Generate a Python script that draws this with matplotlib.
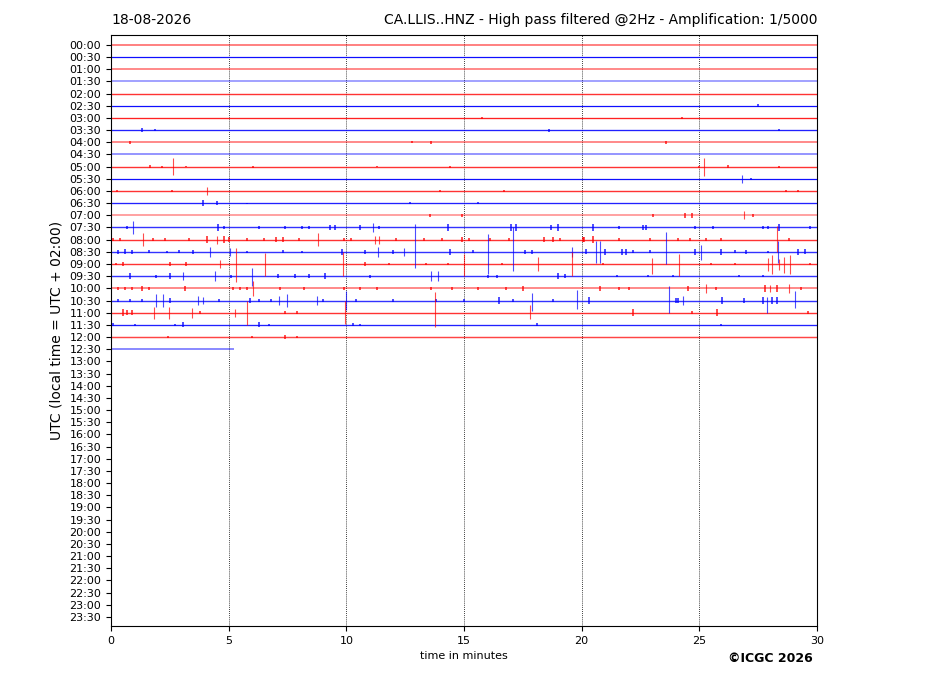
import matplotlib
matplotlib.use("Agg")
import matplotlib.pyplot as plt
import numpy as np

# ---------------- data ----------------
date_label = "18-08-2026"
title_right = "CA.LLIS..HNZ - High pass filtered @2Hz - Amplification: 1/5000"
row_labels = ["%02d:%02d" % (h, m) for h in range(24) for m in (0, 30)]
x_ticks = [0, 5, 10, 15, 20, 25, 30]

# background (high-frequency) noise level per recorded row (row units)
noise = [0.08, 0.03, 0.09, 0.11, 0.05, 0.03, 0.04, 0.04, 0.09, 0.10,
         0.05, 0.03, 0.05, 0.04, 0.11, 0.05, 0.05, 0.05, 0.05, 0.05,
         0.09, 0.05, 0.05, 0.04, 0.06, 0.09]
# minutes of data present in each recorded row
row_length = [30] * 25 + [5.24]

# events per row: (minute, extent above trace, extent below trace) in row units
events = {
    5: [(27.5, .12, .12)],
    6: [(15.75, .12, .12), (24.25, .1, .1)],
    7: [(1.3, .15, .15), (1.87, .08, .08), (18.6, .13, .13), (28.4, .1, .1)],
    8: [(0.8, .1, .1), (12.8, .08, .08), (13.6, .1, .1), (23.6, .1, .1)],
    10: [(1.66, .1, .1), (2.15, .08, .08), (2.62, .7, .7), (3.2, .06, .06), (6.05, .08, .08),
         (11.3, .06, .06), (14.4, .08, .08), (25.0, .08, .08), (25.2, .75, .75), (26.2, .1, .1),
         (28.4, .08, .08)],
    11: [(26.8, .35, .35), (27.2, .1, .1)],
    12: [(0.24, .08, .08), (2.6, .1, .1), (4.1, .35, .35), (13.98, .1, .1), (16.7, .08, .08),
         (28.7, .1, .1), (29.2, .1, .1)],
    13: [(3.92, .27, .27), (4.49, .15, .15), (5.8, .05, .05), (12.7, .08, .08), (15.6, .1, .1)],
    14: [(13.55, .1, .1), (14.9, .1, .1), (23.05, .12, .12), (24.4, .2, .2), (24.7, .2, .2),
         (26.9, .33, .33), (27.3, .1, .1)],
    15: [(0.7, .15, .15), (0.95, .55, .55), (4.56, .27, .27), (4.8, .12, .12), (6.3, .1, .1),
         (7.4, .1, .1), (8.1, .12, .12), (8.4, .12, .12), (9.3, .18, .18), (9.5, .18, .18),
         (10.6, .22, .22), (11.15, .33, .33), (11.4, .12, .12), (14.3, .27, .27), (17.0, .25, .25),
         (17.2, .27, .27), (18.7, .22, .22), (19.0, .25, .25), (20.5, .27, .27), (21.6, .1, .1),
         (22.6, .22, .22), (22.75, .2, .2), (24.8, .1, .1), (25.6, .15, .15), (27.7, .15, .15),
         (27.9, .15, .15), (28.4, .27, .27), (29.7, .1, .1)],
    16: [(0.1, .12, .12), (0.4, .12, .12), (1.35, .55, .55), (1.8, .15, .15), (2.3, .1, .1),
         (3.3, .1, .1), (4.07, .27, .27), (4.5, .33, .33), (4.8, .27, .27), (5.0, .2, .2),
         (5.8, .15, .15), (6.5, .12, .12), (7.0, .22, .22), (7.3, .2, .2), (8.0, .1, .1),
         (8.81, .55, .55), (9.9, .12, .12), (10.2, .12, .12), (11.2, .33, .33), (11.4, .33, .33),
         (12.1, .12, .12), (13.3, .12, .12), (14.05, .15, .15), (14.9, .22, .22), (15.2, .12, .12),
         (16.1, .12, .12), (16.9, .12, .12), (18.4, .2, .2), (18.8, .22, .22), (19.1, .15, .15),
         (20.06, .22, .22), (20.1, .2, .2), (20.5, .27, .27), (21.6, .15, .15), (22.9, .12, .12),
         (24.1, .15, .15), (24.6, .12, .12), (25.3, .12, .12), (25.9, .12, .12), (28.3, 1.15, 1.05),
         (28.8, .12, .12)],
    17: [(0.3, .15, .15), (0.6, .2, .2), (0.9, .15, .15), (1.6, .12, .12), (2.4, .1, .1),
         (2.9, .12, .12), (3.5, .15, .15), (4.21, .41, .41), (5.06, .33, .33), (5.8, .1, .1),
         (7.3, .12, .12), (8.1, .1, .1), (9.8, .27, .27), (10.8, .15, .15), (11.36, .41, .41),
         (12.0, .15, .15), (12.46, .33, .33), (12.9, 2.3, 1.3), (14.4, .22, .22), (15.4, .12, .12),
         (16.0, 1.45, 1.8), (17.1, 2.0, 1.55), (17.6, .15, .15), (17.9, .15, .15), (19.57, .41, .41),
         (20.2, .2, .2), (20.6, .9, .9), (20.8, .9, .9), (21.0, .27, .27), (21.7, .22, .22),
         (21.9, .22, .22), (22.2, .12, .12), (22.9, .12, .12), (23.58, 1.6, 1.0), (24.8, .22, .22),
         (25.05, .6, .7), (25.9, .22, .22), (26.5, .12, .12), (27.0, .15, .15), (27.9, .1, .1),
         (28.35, .9, .9), (29.2, .22, .22), (29.5, .2, .2)],
    18: [(0.2, .12, .12), (0.5, .15, .15), (2.5, .15, .15), (3.2, .15, .15), (4.63, .35, .35),
         (5.33, 1.3, 1.5), (6.54, .9, 1.0), (9.87, 1.0, 1.0), (10.8, .15, .15), (11.8, .12, .12),
         (13.4, .1, .1), (14.3, .1, .1), (15.0, .8, 1.0), (16.6, .1, .1), (18.15, .6, .6),
         (19.57, 1.0, 1.0), (20.9, .1, .1), (22.97, .5, .8), (24.15, .8, 1.0), (25.5, .1, .1),
         (26.5, .1, .1), (27.9, .5, .6), (28.1, .7, .8), (28.4, .4, .5), (28.6, .6, .7),
         (28.85, .7, .8), (29.7, .12, .12)],
    19: [(0.81, .22, .22), (1.9, .12, .12), (2.51, .22, .22), (3.08, .33, .33), (4.42, .41, .41),
         (5.1, .12, .12), (5.98, .7, .8), (7.1, .15, .15), (7.8, .15, .15), (8.4, .15, .15),
         (9.1, .27, .27), (11.0, .12, .12), (13.6, .41, .41), (13.9, .41, .41), (16.0, .12, .12),
         (16.4, .12, .12), (19.0, .22, .22), (19.3, .15, .15), (21.5, .08, .08), (22.8, .08, .08),
         (23.9, .08, .08), (26.7, .08, .08), (27.7, .08, .08)],
    20: [(0.3, .15, .15), (0.6, .15, .15), (0.9, .12, .12), (1.3, .2, .2), (1.6, .1, .1),
         (3.14, .22, .22), (5.2, .12, .12), (5.5, .15, .15), (5.8, .12, .12), (6.05, .6, .6),
         (7.2, .12, .12), (8.2, .12, .12), (9.9, .15, .15), (10.6, .12, .12), (11.3, .12, .12),
         (13.6, .12, .12), (14.5, .15, .15), (15.6, .12, .12), (16.8, .12, .12), (17.5, .22, .22),
         (20.8, .22, .22), (21.6, .12, .12), (22.0, .12, .12), (24.5, .22, .22), (25.28, .35, .35),
         (25.7, .12, .12), (27.8, .27, .27), (28.0, .3, .3), (28.3, .27, .27), (28.8, .35, .35),
         (29.3, .12, .12)],
    21: [(0.3, .12, .12), (0.8, .12, .12), (1.3, .12, .12), (1.9, .55, .55), (2.2, .5, .5),
         (2.5, .22, .22), (3.7, .33, .33), (3.9, .3, .3), (4.6, .15, .15), (5.9, .2, .2),
         (6.3, .15, .15), (6.8, .12, .12), (7.14, .41, .41), (7.47, .5, .5), (8.74, .33, .33),
         (9.0, .15, .15), (10.0, .8, .8), (10.4, .12, .12), (12.0, .12, .12), (13.8, .15, .15),
         (15.0, .12, .12), (16.5, .27, .27), (17.1, .15, .15), (17.9, .65, .85), (18.8, .15, .15),
         (19.8, .9, .7), (20.3, .27, .27), (23.72, 1.2, 1.0), (24.0, .22, .22), (24.1, .2, .2),
         (24.3, .33, .33), (25.95, .27, .27), (26.9, .22, .22), (27.7, .27, .27), (27.86, .3, 1.0),
         (28.1, .27, .27), (28.3, .27, .27), (29.06, .8, .6)],
    22: [(0.5, .27, .27), (0.7, .22, .22), (0.9, .2, .2), (1.84, .5, .5), (2.47, .5, .5),
         (3.46, .41, .41), (3.8, .12, .12), (5.27, .33, .33), (5.76, 1.0, 1.0), (7.4, .15, .15),
         (7.9, .12, .12), (9.95, 1.0, .9), (13.76, 1.7, 1.2), (17.8, .6, .5), (22.2, .27, .27),
         (24.7, .15, .15), (25.76, .27, .27), (29.6, .1, .1)],
    23: [(0.1, .12, .12), (1.0, .1, .1), (2.7, .1, .1), (3.08, .2, .2), (6.3, .2, .2),
         (6.7, .1, .1), (10.3, .12, .12), (10.6, .1, .1), (18.1, .12, .12), (25.9, .1, .1)],
    24: [(2.44, .1, .1), (6.0, .08, .08), (7.4, .2, .2), (7.9, .08, .08)],
}

# ---------------- plot ----------------
W, H = 927, 696
fig = plt.figure(figsize=(W / 100, H / 100), dpi=100)
ax = fig.add_axes([111 / W, 1 - 626 / H, (817 - 111) / W, (626 - 35) / H])

colors = ["#ff0000", "#0000ff"]

for i, (nz, length) in enumerate(zip(noise, row_length)):
    c = colors[i % 2]
    lw_px = 1.0 + 8.0 * nz
    alpha = float(np.clip(1.15 - 7.0 * nz, 0.35, 0.95))
    ax.plot([0, length], [i, i], color=c, lw=lw_px * 0.72, alpha=alpha,
            solid_capstyle="butt", zorder=2)
    ev = events.get(i, [])
    if ev:
        xs = [e[0] for e in ev]
        tops = [i - e[1] for e in ev]
        bots = [i + e[2] for e in ev]
        big = [max(e[1], e[2]) for e in ev]
        lws = [1.4 if b < 0.3 else 0.8 for b in big]
        ax.vlines(xs, tops, bots, colors=c, linewidths=lws, alpha=0.7, zorder=3)

for xv in x_ticks[1:-1]:
    ax.axvline(xv, color="black", lw=0.6, ls=(0, (1, 1.5)), zorder=1)

ax.set_xlim(0, 30)
ax.set_ylim(47.75, -0.82)
ax.set_xticks(x_ticks)
ax.set_xticklabels([str(v) for v in x_ticks], fontsize=8)
ax.set_yticks(range(48))
ax.set_yticklabels(row_labels, fontsize=8)
ax.set_xlabel("time in minutes", fontsize=8)
ax.set_ylabel("UTC (local time = UTC + 02:00)", fontsize=10)

fig.text(111 / W, 1 - 20 / H, date_label, ha="left", va="center", fontsize=10)
fig.text(817 / W, 1 - 20 / H, title_right, ha="right", va="center", fontsize=10)
fig.text(770 / W, 1 - 658 / H, "©ICGC 2026", ha="center", va="center",
         fontsize=9, fontweight="bold")

fig.savefig("out.png", dpi=100)
